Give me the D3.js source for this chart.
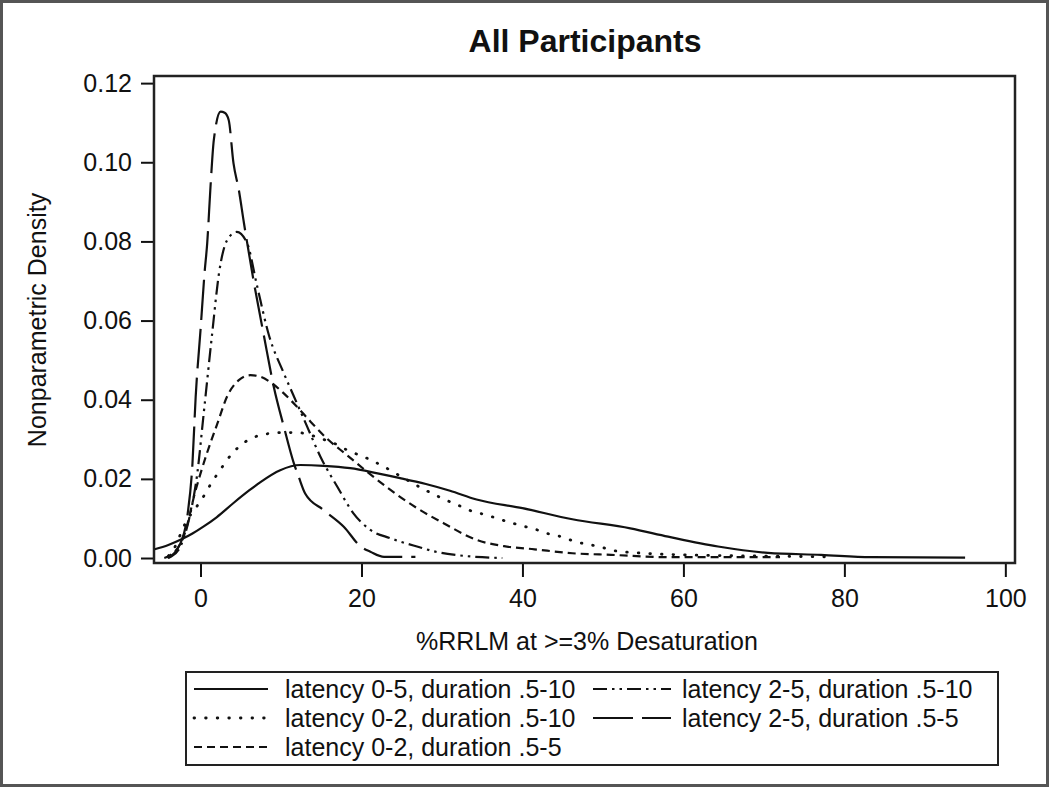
<!DOCTYPE html>
<html><head><meta charset="utf-8">
<script src="https://cdn.jsdelivr.net/npm/d3@7"></script>
<style>
body{margin:0;background:#fff;}
svg text{font-family:"Liberation Sans",Arial,sans-serif;fill:#111;}
</style></head>
<body>
<svg id="c" width="1050" height="788"></svg>
<script>
const title = "All Participants";
const xLabel = "%RRLM at >=3% Desaturation";
const yLabel = "Nonparametric Density";
const xTicks = [0, 20, 40, 60, 80, 100];
const yTicks = [0, 0.02, 0.04, 0.06, 0.08, 0.10, 0.12];
const seriesNames = [
  "latency 0-5, duration .5-10",
  "latency 0-2, duration .5-10",
  "latency 0-2, duration .5-5",
  "latency 2-5, duration .5-10",
  "latency 2-5, duration .5-5"
];
// [x, density]
const solid05_10 = [[-5.7,0.0022],[-4,0.0033],[-2.3,0.0048],[-1,0.0062],[0.4,0.0080],[2,0.0103],[4.1,0.0139],[6,0.0170],[7.45,0.0192],[9.9,0.0222],[12.4,0.0235],[15.3,0.0233],[18.6,0.0227],[22,0.0214],[24.8,0.0202],[28,0.0187],[31,0.0170],[34.3,0.0148],[40,0.0126],[46.2,0.0098],[53.4,0.0075],[58.1,0.0054],[64.3,0.0029],[70.5,0.0013],[77.1,0.0008],[83.3,0.0002],[95,0.0001]];
const dotted02_10 = [[-4,0.0005],[-3,0.0035],[-2.2,0.0075],[-1.24,0.0109],[-0.2,0.0138],[0.6,0.0163],[1.45,0.0193],[2.3,0.0218],[3.3,0.0248],[4.35,0.0273],[5.6,0.0294],[7,0.0308],[8.7,0.0315],[10.3,0.0317],[12,0.0317],[13.3,0.0313],[14.9,0.0302],[16.6,0.0290],[18.2,0.0273],[20.7,0.0252],[22.4,0.0235],[25,0.0205],[27.9,0.0172],[29.4,0.0157],[31,0.0142],[32.4,0.0130],[33.9,0.0117],[35.5,0.0109],[37,0.0099],[38.6,0.0089],[40,0.0081],[41.7,0.0072],[43.1,0.0062],[44.8,0.0054],[46.2,0.0044],[47.9,0.0035],[49.6,0.0029],[51,0.0020],[55,0.0012],[60,0.0008],[70,0.0005],[78,0.0003]];
const dashed02_5 = [[-4.5,0.0],[-4.1,0.0003],[-2.1,0.0054],[-0.6,0.0172],[0.8,0.0265],[2.1,0.0340],[3.3,0.0408],[4.8,0.0450],[6.2,0.0462],[7.45,0.0458],[8.9,0.0441],[10.35,0.0416],[12,0.0382],[13.7,0.0344],[15.7,0.0302],[18.2,0.0260],[20.7,0.0218],[23.6,0.0172],[26.9,0.0126],[30.2,0.0088],[34.4,0.0045],[37.7,0.0030],[41.5,0.0022],[46.2,0.0012],[51,0.0008],[58.1,0.0002],[72,0.0002]];
const dashdot25_10 = [[-4,0.0],[-3.7,0.0003],[-2.5,0.0029],[-1.45,0.0096],[-0.4,0.0214],[0.4,0.0366],[1.45,0.0568],[2.3,0.0720],[3.3,0.0803],[4.5,0.0824],[5.8,0.0795],[7.0,0.0690],[8.5,0.0563],[10.35,0.0467],[12,0.0390],[13.25,0.0332],[14.9,0.0256],[17,0.0180],[19,0.0113],[21.1,0.0071],[23.6,0.0050],[26.9,0.0029],[29.4,0.0015],[32,0.0007],[35,0.0002],[37.5,0.0]];
const longdash25_5 = [[-4.1,0.0],[-2.5,0.0037],[-1.65,0.0104],[-1.0,0.0239],[-0.6,0.0408],[0,0.0576],[0.5,0.0720],[0.83,0.0795],[1.24,0.0938],[1.65,0.1056],[2.5,0.1128],[3.0,0.1125],[3.5,0.1107],[4.1,0.0997],[4.76,0.0930],[5.4,0.0846],[6.6,0.0700],[7.9,0.0559],[9.1,0.0433],[10.35,0.0332],[11.6,0.0239],[12.2,0.0205],[13,0.0163],[15.3,0.0121],[17.8,0.0079],[19.9,0.0029],[21.1,0.0016],[22.8,0.0003],[26.7,0.0003]];

const seriesData = [solid05_10, dotted02_10, dashed02_5, dashdot25_10, longdash25_5];
const dashes = ["none", "0.6,11", "8,5", "14,5,2.5,5,2.5,5", "40,9"];

const svg = d3.select("#c");
const L = 154, R = 1015, T = 76, B = 563;
const x = d3.scaleLinear().domain([-5.78, 101.2]).range([L, R]);
const y = d3.scaleLinear().domain([-0.00126, 0.1218]).range([B, T]);

// outer border
svg.append("rect").attr("x",1.5).attr("y",1.5).attr("width",1046).attr("height",784)
  .attr("fill","none").attr("stroke","#555").attr("stroke-width",3);

svg.append("text").attr("x",585).attr("y",52).attr("text-anchor","middle")
  .attr("font-size",32).attr("font-weight","bold").text(title);

svg.append("defs").append("clipPath").attr("id","clip").append("rect")
  .attr("x",L).attr("y",T).attr("width",R-L).attr("height",B-T);

const gy = svg.append("g").attr("transform",`translate(${L},0)`)
  .call(d3.axisLeft(y).tickValues(yTicks).tickFormat(d3.format(".2f")).tickSize(13).tickPadding(9).tickSizeOuter(0));
gy.select(".domain").remove();
gy.selectAll("line").attr("stroke","#111").attr("stroke-width",2);
gy.selectAll("text").attr("font-size",25).attr("fill","#111").style("font-family","Liberation Sans, Arial, sans-serif");

const gx = svg.append("g").attr("transform",`translate(0,${B})`)
  .call(d3.axisBottom(x).tickValues(xTicks).tickFormat(d3.format("d")).tickSize(14).tickPadding(12).tickSizeOuter(0));
gx.select(".domain").remove();
gx.selectAll("line").attr("stroke","#111").attr("stroke-width",2);
gx.selectAll("text").attr("font-size",25).attr("fill","#111").style("font-family","Liberation Sans, Arial, sans-serif");

svg.append("rect").attr("x",L).attr("y",T).attr("width",R-L).attr("height",B-T)
  .attr("fill","none").attr("stroke","#222").attr("stroke-width",2.5);

svg.append("text").attr("x",587).attr("y",650).attr("text-anchor","middle")
  .attr("font-size",25).text(xLabel);
svg.append("text").attr("transform","translate(46,320) rotate(-90)").attr("text-anchor","middle")
  .attr("font-size",25).text(yLabel);

const line = d3.line().x(d=>x(d[0])).y(d=>y(d[1])).curve(d3.curveMonotoneX);
const gl = svg.append("g").attr("clip-path","url(#clip)");
seriesData.forEach((s,i)=>{
  gl.append("path").datum(s).attr("d",line).attr("fill","none")
    .attr("stroke","#111").attr("stroke-width", i===1 ? 2.8 : 2.2)
    .attr("stroke-dasharray",dashes[i])
    .attr("stroke-linecap", i===1 ? "round" : "butt");
});

// legend
svg.append("rect").attr("x",186).attr("y",672).attr("width",812).attr("height",93)
  .attr("fill","none").attr("stroke","#222").attr("stroke-width",2);
const legPos = [[0,0],[0,1],[0,2],[1,0],[1,1]];
const colX = [[194,268,285],[593,671,682]];
const rowY = [689, 718, 747];
seriesNames.forEach((n,i)=>{
  const [c,r] = legPos[i];
  const cx = colX[c], ry = rowY[r];
  svg.append("line").attr("x1",cx[0]).attr("x2",cx[1]).attr("y1",ry).attr("y2",ry)
    .attr("stroke","#111").attr("stroke-width", i===1 ? 2.8 : 2.2).attr("stroke-dasharray",dashes[i])
    .attr("stroke-linecap", i===1 ? "round" : "butt");
  svg.append("text").attr("x",cx[2]).attr("y",ry).attr("dy","0.35em")
    .attr("font-size",25).text(n);
});
</script>
</body></html>
